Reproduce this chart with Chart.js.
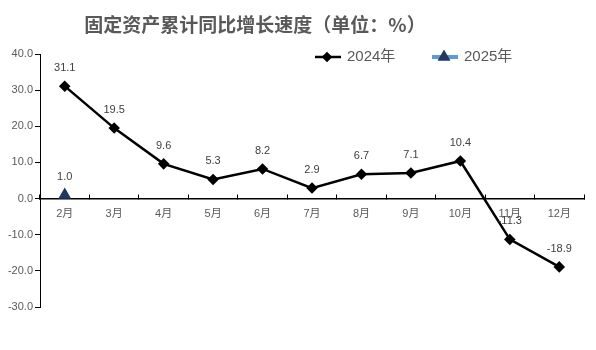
<!DOCTYPE html>
<html>
<head>
<meta charset="utf-8">
<script src="https://cdn.jsdelivr.net/npm/chart.js@4/dist/chart.umd.min.js"></script>
<style>
  html, body { margin: 0; padding: 0; background: #fff; }
  #wrap { width: 596px; height: 350px; }
</style>
</head>
<body>
<div id="wrap"><canvas id="growthChart" width="596" height="350"></canvas></div>
<script>
// -------------------------
// Data
// -------------------------
const months = ['2月', '3月', '4月', '5月', '6月', '7月', '8月', '9月', '10月', '11月', '12月'];
const values2024 = [31.1, 19.5, 9.6, 5.3, 8.2, 2.9, 6.7, 7.1, 10.4, -11.3, -18.9];
const values2025 = [1.0, null, null, null, null, null, null, null, null, null, null];
const yTicks = [-30, -20, -10, 0, 10, 20, 30, 40];

const titleText = '固定资产累计同比增长速度（单位：%）';
const labelFont = '11px "Liberation Sans", "Noto Sans CJK SC", sans-serif';
const textGray = '#595959';

// -------------------------
// Plugins: title, legend, value labels
// -------------------------
const titlePlugin = {
    id: 'titleText',
    afterDraw(chart) {
        const ctx = chart.ctx;
        ctx.save();
        ctx.font = 'bold 19px "Noto Sans CJK SC", serif';
        ctx.fillStyle = textGray;
        ctx.textAlign = 'center';
        ctx.textBaseline = 'middle';
        ctx.fillText(titleText, 255, 25);
        ctx.restore();
    }
};

const legendPlugin = {
    id: 'customLegend',
    afterDraw(chart) {
        const ctx = chart.ctx;
        const items = [
            { ds: chart.data.datasets[0], x: 315, lineColor: '#000', lineWidth: 2.5, r: 3.5 },
            { ds: chart.data.datasets[1], x: 432, lineColor: '#5b9bd5', lineWidth: 4, r: 3.5 }
        ];
        const y = 57;
        ctx.save();
        items.forEach(it => {
            ctx.strokeStyle = it.lineColor;
            ctx.lineWidth = it.lineWidth;
            ctx.beginPath();
            ctx.moveTo(it.x, y);
            ctx.lineTo(it.x + 26, y);
            ctx.stroke();
            ctx.fillStyle = it.ds.pointBackgroundColor;
            ctx.strokeStyle = it.ds.pointBorderColor;
            Chart.helpers.drawPoint(ctx, {
                pointStyle: it.ds.pointStyle,
                radius: it.r,
                borderWidth: 1
            }, it.x + 12, y);
            ctx.font = '15px "Liberation Sans", "Noto Sans CJK SC", sans-serif';
            ctx.fillStyle = textGray;
            ctx.textAlign = 'left';
            ctx.textBaseline = 'middle';
            ctx.fillText(it.ds.label, it.x + 32, y);
        });
        ctx.restore();
    }
};

const valueLabelPlugin = {
    id: 'valueLabels',
    afterDatasetsDraw(chart) {
        const ctx = chart.ctx;
        ctx.save();
        ctx.font = labelFont;
        ctx.fillStyle = '#404040';
        ctx.textAlign = 'center';
        ctx.textBaseline = 'middle';
        chart.data.datasets.forEach((ds, i) => {
            chart.getDatasetMeta(i).data.forEach((pt, j) => {
                const v = ds.data[j];
                if (v === null || v === undefined) return;
                ctx.fillText(v.toFixed(1), pt.x, pt.y - 18);
            });
        });
        ctx.restore();
    }
};

// -------------------------
// Chart
// -------------------------
const ctx = document.getElementById('growthChart').getContext('2d');

new Chart(ctx, {
    type: 'line',
    data: {
        labels: months,
        datasets: [{
            label: '2024年',
            data: values2024,
            borderColor: '#000',
            borderWidth: 2.5,
            pointStyle: 'rectRot',
            pointRadius: 4,
            pointBackgroundColor: '#000',
            pointBorderColor: '#000',
            tension: 0
        }, {
            label: '2025年',
            data: values2025,
            borderColor: '#5b9bd5',
            borderWidth: 2.5,
            pointStyle: 'triangle',
            pointRadius: 5,
            pointBackgroundColor: '#1f3864',
            pointBorderColor: '#1f3864',
            tension: 0
        }]
    },
    options: {
        responsive: false,
        animation: false,
        layout: {
            padding: { top: 54, right: 12, bottom: 43, left: 0 }
        },
        plugins: {
            legend: { display: false },
            title: { display: false },
            tooltip: { enabled: false }
        },
        scales: {
            x: {
                position: { y: 0 },
                offset: true,
                grid: {
                    display: true,
                    drawOnChartArea: false,
                    drawTicks: true,
                    tickLength: -5,
                    offset: true,
                    color: '#000',
                    lineWidth: 1
                },
                border: { display: true, color: '#000', width: 1.5 },
                ticks: {
                    padding: 14,
                    color: textGray,
                    font: { family: '"Liberation Sans", "Noto Sans CJK SC", sans-serif', size: 11 },
                    maxRotation: 0,
                    autoSkip: false
                }
            },
            y: {
                min: -30,
                max: 40,
                afterFit(scale) { scale.width = 40; },
                afterBuildTicks(scale) { scale.ticks = yTicks.map(v => ({ value: v })); },
                grid: {
                    drawOnChartArea: false,
                    drawTicks: true,
                    tickLength: 5,
                    color: '#000'
                },
                border: { display: true, color: '#000', width: 1 },
                ticks: {
                    padding: 2,
                    color: textGray,
                    font: { family: '"Liberation Sans", sans-serif', size: 11 },
                    callback: v => v.toFixed(1)
                }
            }
        }
    },
    plugins: [titlePlugin, legendPlugin, valueLabelPlugin]
});
</script>
</body>
</html>
